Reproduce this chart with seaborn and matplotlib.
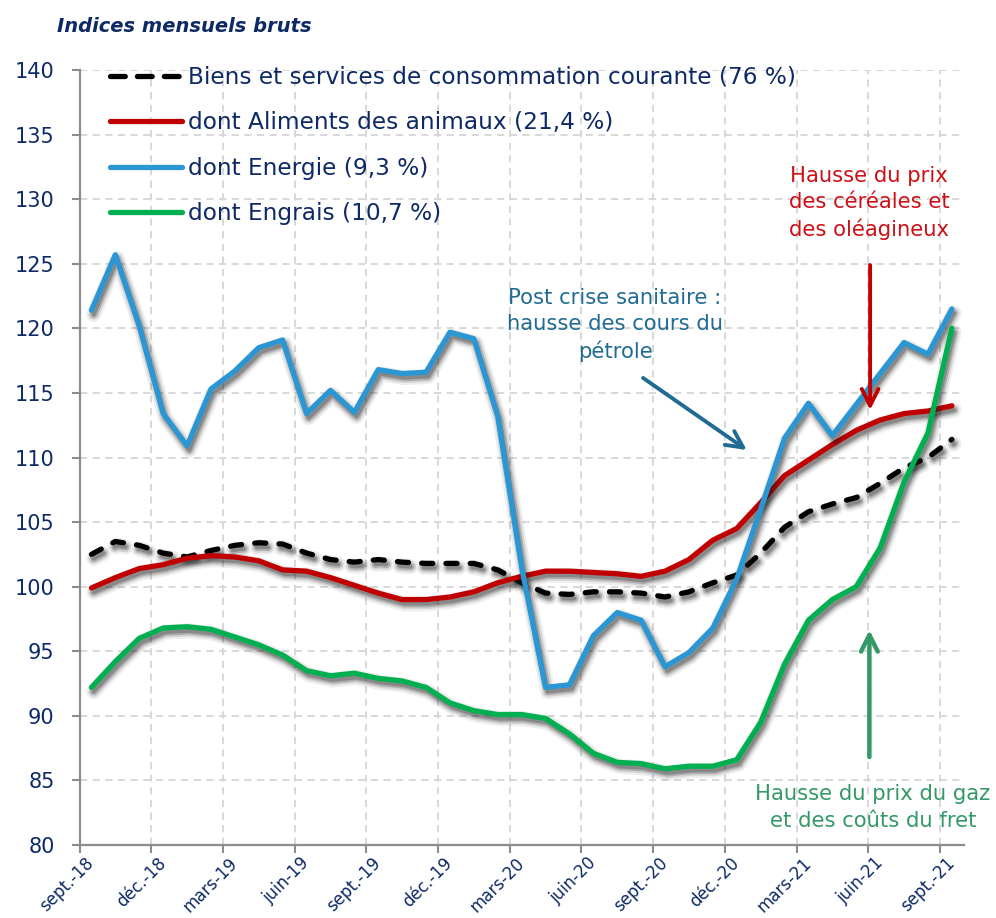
import numpy as np
import pandas as pd
import matplotlib
matplotlib.use('Agg')
import matplotlib.pyplot as plt
import matplotlib.patheffects as pe
from matplotlib.lines import Line2D
import seaborn as sns

# monthly series, sept-18 .. sept-21
mois = ['sept.-18', 'oct.-18', 'nov.-18', 'déc.-18', 'janv.-19', 'févr.-19', 'mars-19', 'avr.-19',
        'mai-19', 'juin-19', 'juil.-19', 'août-19', 'sept.-19', 'oct.-19', 'nov.-19', 'déc.-19',
        'janv.-20', 'févr.-20', 'mars-20', 'avr.-20', 'mai-20', 'juin-20', 'juil.-20', 'août-20',
        'sept.-20', 'oct.-20', 'nov.-20', 'déc.-20', 'janv.-21', 'févr.-21', 'mars-21', 'avr.-21',
        'mai-21', 'juin-21', 'juil.-21', 'août-21', 'sept.-21']

biens = [102.5, 103.5, 103.2, 102.6, 102.3, 102.8, 103.2, 103.4, 103.3, 102.6, 102.1, 101.9,
         102.1, 101.9, 101.8, 101.8, 101.8, 101.3, 100.3, 99.5, 99.4, 99.6, 99.6, 99.5,
         99.2, 99.6, 100.3, 100.9, 102.6, 104.6, 105.8, 106.4, 106.9, 108.0, 109.2, 110.0, 111.4]
aliments = [99.9, 100.7, 101.4, 101.7, 102.2, 102.4, 102.3, 102.0, 101.3, 101.2, 100.7, 100.1,
            99.5, 99.0, 99.0, 99.2, 99.6, 100.3, 100.8, 101.2, 101.2, 101.1, 101.0, 100.8,
            101.2, 102.1, 103.6, 104.5, 106.5, 108.6, 109.8, 111.0, 112.1, 112.9, 113.4, 113.6, 114.0]
energie = [121.4, 125.7, 120.2, 113.4, 110.9, 115.3, 116.7, 118.5, 119.1, 113.4, 115.2, 113.5,
           116.8, 116.5, 116.6, 119.7, 119.2, 113.2, 101.5, 92.2, 92.4, 96.2, 98.0, 97.4,
           93.8, 94.9, 96.8, 100.6, 106.0, 111.5, 114.2, 111.7, 114.1, 116.5, 118.9, 118.0, 121.5]
engrais = [92.2, 94.2, 96.0, 96.8, 96.9, 96.7, 96.1, 95.5, 94.7, 93.5, 93.1, 93.3,
           92.9, 92.7, 92.2, 91.0, 90.4, 90.1, 90.1, 89.8, 88.6, 87.1, 86.4, 86.3,
           85.9, 86.1, 86.1, 86.6, 89.5, 94.0, 97.4, 99.0, 100.0, 103.0, 108.1, 111.9, 120.0]

noms = ['Biens et services de consommation courante (76 %)',
        'dont Aliments des animaux (21,4 %)',
        'dont Energie (9,3 %)',
        'dont Engrais (10,7 %)']
couleurs = ['#000000', '#C00000', '#2A96D3', '#00B050']

navy = '#0E2A66'
df = pd.DataFrame({'x': np.arange(len(mois)), 'biens': biens, 'aliments': aliments,
                   'energie': energie, 'engrais': engrais})

sns.set_theme(style='white')
plt.rcParams['font.family'] = ['DejaVu Sans']

fig = plt.figure(figsize=(9.96, 9.18), dpi=100)
ax = fig.add_axes([79.5 / 996, 1 - 845 / 918, (963.8 - 79.5) / 996, (845 - 70) / 918])

lw = 3.8
# blurred drop shadow, built from a few wide translucent strokes
off = (1.6, -3.0)
ombre = [pe.SimpleLineShadow(offset=off, shadow_color='k', alpha=0.07, rho=1, linewidth=lw + 7),
         pe.SimpleLineShadow(offset=off, shadow_color='k', alpha=0.12, rho=1, linewidth=lw + 4),
         pe.SimpleLineShadow(offset=off, shadow_color='k', alpha=0.20, rho=1, linewidth=lw + 1.5),
         pe.SimpleLineShadow(offset=off, shadow_color='k', alpha=0.25, rho=1, linewidth=lw - 1),
         pe.Normal()]

for i, col in enumerate(['biens', 'aliments', 'energie', 'engrais']):
    sns.lineplot(data=df, x='x', y=col, color=couleurs[i], linewidth=lw, ax=ax, legend=False)
    line = ax.lines[-1]
    line.set_zorder(3 + i)
    line.set_solid_joinstyle('round')
    line.set_solid_capstyle('round')
    if i == 0:
        line.set_dashes((2.1, 2.5))
        line.set_dash_capstyle('round')
    line.set_path_effects(ombre)

ax.set_xlim(-0.5, 36.5)
ax.set_ylim(80, 140)
ax.set_yticks(np.arange(80, 141, 5))
ax.set_xticks(np.arange(-0.5, 36, 3))
ax.set_xticks(np.arange(0, 37, 3), minor=True)
ax.set_xticklabels([mois[k] for k in range(0, 37, 3)], minor=True, rotation=45,
                   ha='right', va='center', rotation_mode='anchor')
ax.tick_params(axis='x', which='major', length=6, width=1.5, color='#8c8c8c', labelbottom=False,
               bottom=True, direction='out')
ax.tick_params(axis='x', which='minor', length=0, pad=11, labelsize=12, labelcolor=navy)
ax.tick_params(axis='y', length=6, width=1.5, color='#8c8c8c', left=True, pad=12,
               labelsize=15, labelcolor=navy)
ax.set_xlabel('')
ax.set_ylabel('')

ax.grid(True, which='major', axis='both', color='#d6d6d6', linestyle=(0, (4, 3)), linewidth=1.3)
ax.set_axisbelow(True)
for s in ['top', 'right']:
    ax.spines[s].set_visible(False)
for s in ['left', 'bottom']:
    ax.spines[s].set_color('#8c8c8c')
    ax.spines[s].set_linewidth(1.6)

handles = []
for i in range(4):
    h = Line2D([], [], color=couleurs[i], linewidth=lw, solid_capstyle='round')
    if i == 0:
        h.set_dashes((2.8, 2.3))
        h.set_dash_capstyle('round')
    handles.append(h)
leg = ax.legend(handles, noms, loc='upper left', bbox_to_anchor=(110 / 996, 1 - 66 / 918),
                bbox_transform=fig.transFigure, frameon=False, fontsize=16.75, borderpad=0,
                borderaxespad=0, handlelength=3.09, handletextpad=0.26, labelspacing=0.96)
for t in leg.get_texts():
    t.set_color(navy)

# annotations
ax.text(21.91, 120.26, 'Post crise sanitaire :\nhausse des cours du\npétrole', ha='center',
        va='center', multialignment='center', fontsize=15.2, color='#1F6B93', linespacing=1.4)
ax.annotate('', xy=(27.42, 110.58), xytext=(23.08, 116.16), zorder=10,
            arrowprops=dict(arrowstyle='->', lw=2.8, color='#1F6B93', mutation_scale=30,
                            shrinkA=0, shrinkB=0))

ax.text(32.54, 129.7, 'Hausse du prix\ndes céréales et\ndes oléagineux', ha='center',
        va='center', multialignment='center', fontsize=15.2, color='#CC1016', linespacing=1.4)
ax.annotate('', xy=(32.58, 113.68), xytext=(32.58, 124.9), zorder=10,
            arrowprops=dict(arrowstyle='->', lw=2.8, color='#C00000', mutation_scale=30,
                            shrinkA=0, shrinkB=0))

ax.text(32.7, 82.9, 'Hausse du prix du gaz\net des coûts du fret', ha='center',
        va='center', multialignment='center', fontsize=15.2, color='#339966', linespacing=1.4)
ax.annotate('', xy=(32.55, 96.65), xytext=(32.55, 86.81), zorder=10,
            arrowprops=dict(arrowstyle='->', lw=3.2, color='#339966', mutation_scale=30,
                            shrinkA=0, shrinkB=0))

fig.text(57 / 996, 1 - 27 / 918, 'Indices mensuels bruts', ha='left', va='center',
         fontsize=14, fontweight='bold', fontstyle='italic', color=navy)

fig.savefig('out.png', dpi=100)
